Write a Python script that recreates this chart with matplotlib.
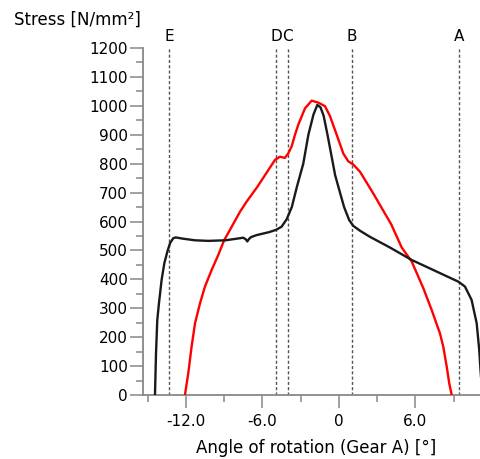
import matplotlib
matplotlib.use("Agg")
import matplotlib.pyplot as plt
from matplotlib.ticker import MultipleLocator, FixedLocator

# ---- data ----
black_x = [-14.43, -14.35, -14.25, -14.12, -13.91, -13.70, -13.46, -13.25, -13.00, -12.81,
           -12.3, -11.3, -10.25, -8.9, -7.8, -7.5, -7.3, -7.19, -7.05, -6.9, -6.46, -5.5,
           -4.94, -4.5, -4.1, -3.7, -3.3, -2.8, -2.4, -2.0, -1.7, -1.45, -1.2, -0.9, -0.6,
           -0.3, 0.08, 0.4, 0.8, 1.12, 1.65, 2.43, 4.0, 5.7, 9.36, 9.88, 10.4, 10.8, 11.0,
           11.1, 11.25]
black_y = [0, 144, 259, 317, 398, 455, 496, 525, 542, 545,
           541, 535, 533, 535, 542, 544, 538, 531, 540, 546, 553, 563,
           571, 582, 608, 650, 720, 800, 900, 970, 1003, 995, 965, 900, 830,
           760, 700, 650, 605, 585, 568, 547, 510, 467, 392, 375, 329, 248, 156,
           86, 0]

red_x = [-12.08, -11.82, -11.56, -11.29, -10.9, -10.51, -9.99, -9.47, -9.0, -8.55, -7.76,
         -7.24, -6.4, -5.02, -4.63, -4.24, -3.97, -3.71, -3.45, -3.19, -2.67, -2.14, -1.62,
         -1.1, -0.71, -0.18, 0.34, 0.73, 1.12, 1.65, 2.69, 4.1, 4.92, 5.7, 6.61, 7.27,
         7.92, 8.18, 8.45, 8.65, 8.84]
red_y = [0, 75, 167, 248, 317, 375, 432, 484, 536, 571, 634,
         669, 720, 813, 824, 820, 836, 860, 900, 935, 991, 1018, 1011,
         999, 965, 900, 835, 808, 797, 772, 697, 590, 510, 462, 370, 294,
         213, 167, 98, 40, 0]

marker_x = [-13.31, -4.94, -4.03, 1.04, 9.41]
marker_labels = ["E", "D", "C", "B", "A"]

x_major = [-12, -6, 0, 6]
x_major_labels = ["-12.0", "-6.0", "0", "6.0"]
x_minor = [-15, -9, -3, 3, 9]

# ---- figure ----
fig = plt.figure(figsize=(4.8, 4.59), dpi=100)
ax = fig.add_axes([143/480, 1 - 395/459, 1 - 143/480, (395 - 48)/459])

ax.set_xlim(-15.37, 11.06)
ax.set_ylim(0, 1200)

for mx, lab in zip(marker_x, marker_labels):
    ax.plot([mx, mx], [0, 1200], linestyle=(0, (2.2, 1.6)), color="#555555", lw=1.0, zorder=1)
    ax.annotate(lab, xy=(mx, 1200), xytext=(0, 3), textcoords="offset points",
                ha="center", va="bottom", fontsize=11, annotation_clip=False)

ax.plot(red_x, red_y, color="#ff0000", lw=1.7, zorder=3, solid_joinstyle="round")
ax.plot(black_x, black_y, color="#1a1a1a", lw=1.7, zorder=4, solid_joinstyle="round")

for s in ["top", "right"]:
    ax.spines[s].set_visible(False)
for s in ["left", "bottom"]:
    ax.spines[s].set_color("#888888")
    ax.spines[s].set_linewidth(1.3)

ax.yaxis.set_major_locator(MultipleLocator(100))
ax.yaxis.set_minor_locator(MultipleLocator(50))
ax.xaxis.set_major_locator(FixedLocator(x_major))
ax.set_xticklabels(x_major_labels)
ax.xaxis.set_minor_locator(FixedLocator(x_minor))

ax.tick_params(axis="both", which="major", length=9.5, width=1.1, color="#888888",
               labelsize=11, direction="out", pad=1.5)
ax.tick_params(axis="both", which="minor", length=4.8, width=1.1, color="#888888",
               direction="out")
ax.tick_params(axis="x", which="major", pad=4)

fig.text(14/480, 1 - 20/459, "Stress [N/mm²]", ha="left", va="center", fontsize=12)
fig.text(316/480, 1 - 448/459, "Angle of rotation (Gear A) [°]", ha="center", va="center",
         fontsize=12)

fig.savefig("out.png", dpi=100)
